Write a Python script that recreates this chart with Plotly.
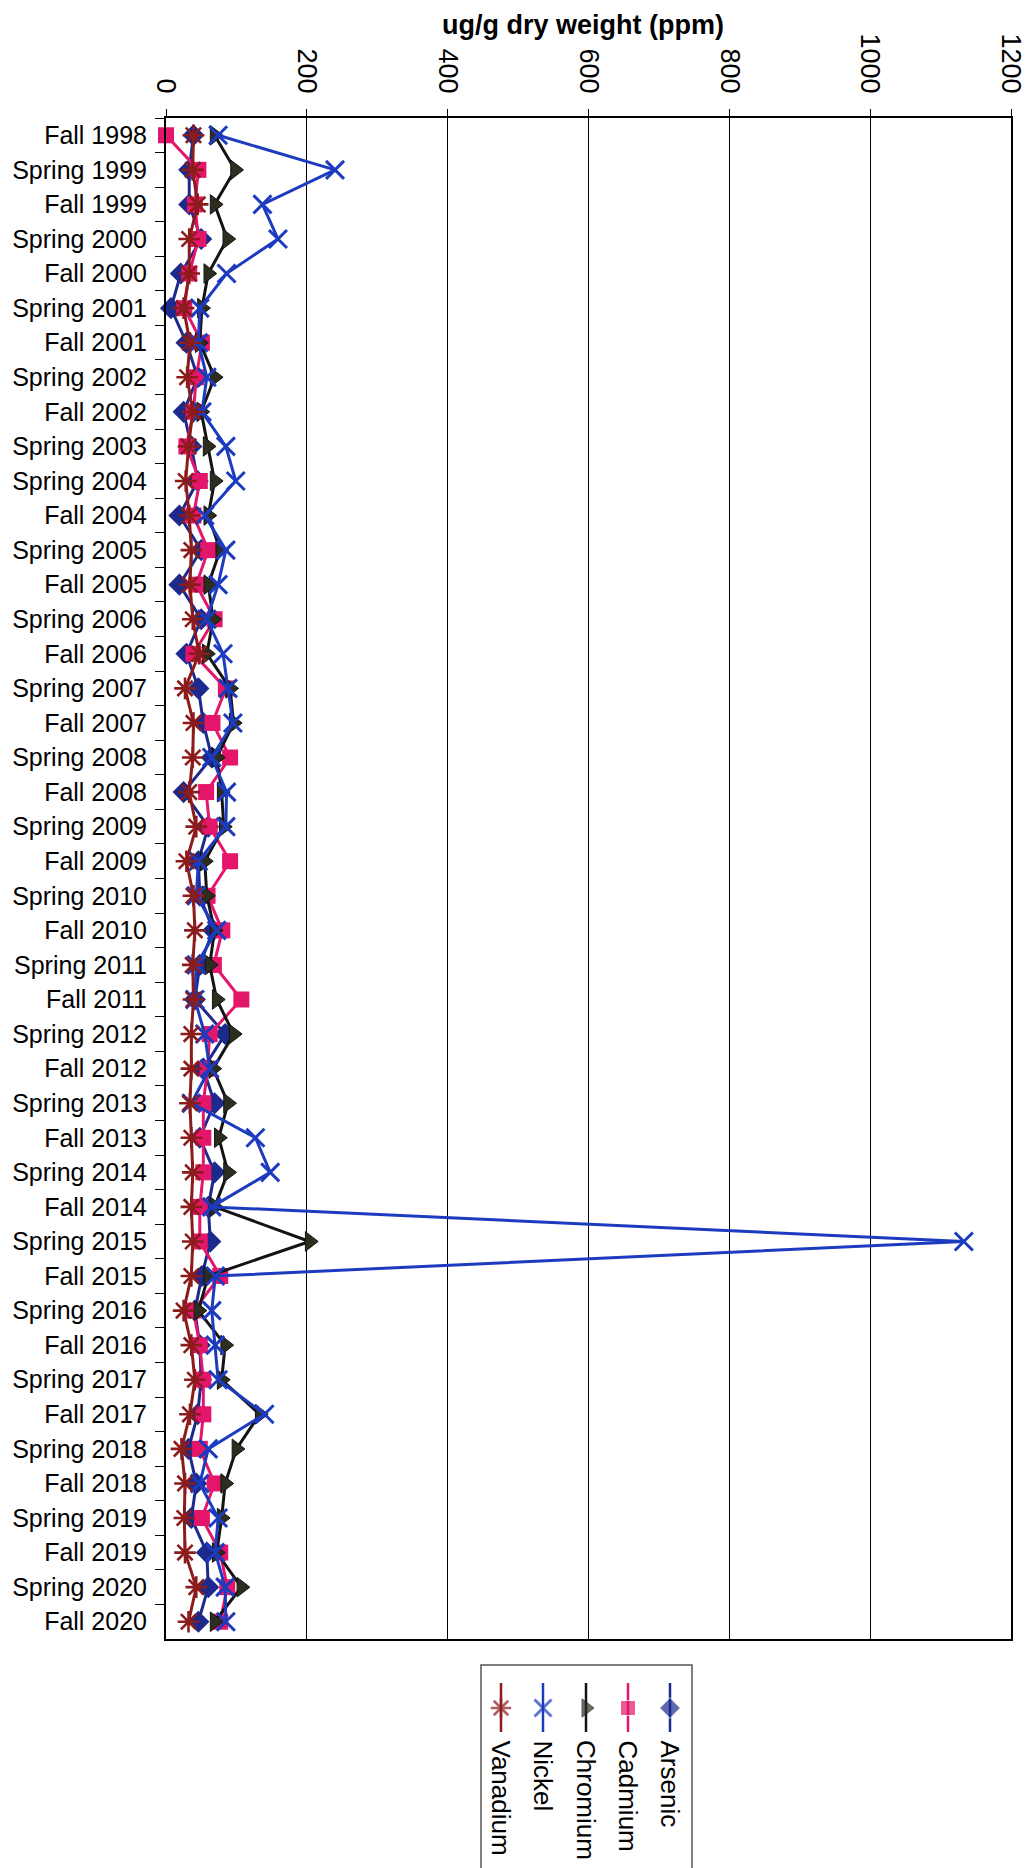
import plotly.graph_objects as go

categories = [
    "Fall 1998", "Spring 1999", "Fall 1999", "Spring 2000", "Fall 2000", "Spring 2001",
    "Fall 2001", "Spring 2002", "Fall 2002", "Spring 2003", "Spring 2004", "Fall 2004",
    "Spring 2005", "Fall 2005", "Spring 2006", "Fall 2006", "Spring 2007", "Fall 2007",
    "Spring 2008", "Fall 2008", "Spring 2009", "Fall 2009", "Spring 2010", "Fall 2010",
    "Spring 2011", "Fall 2011", "Spring 2012", "Fall 2012", "Spring 2013", "Fall 2013",
    "Spring 2014", "Fall 2014", "Spring 2015", "Fall 2015", "Spring 2016", "Fall 2016",
    "Spring 2017", "Fall 2017", "Spring 2018", "Fall 2018", "Spring 2019", "Fall 2019",
    "Spring 2020", "Fall 2020",
]

arsenic = [39, 33, 33, 50, 21, 7, 29, 45, 25, 36, 45, 19, 50, 19, 50, 29, 46, 53, 65, 25,
           60, 46, 48, 67, 48, 41, 84, 53, 69, 48, 69, 60, 63, 51, 41, 48, 50, 45, 32, 43,
           36, 58, 60, 46]
cadmium = [0, 46, 41, 46, 33, 26, 51, 43, 39, 29, 48, 39, 60, 43, 69, 39, 85, 66, 91, 57,
           62, 91, 59, 80, 68, 107, 62, 59, 53, 53, 53, 48, 48, 77, 39, 48, 53, 53, 48, 69,
           51, 77, 87, 77]
chromium = [69, 98, 69, 87, 60, 51, 48, 69, 50, 59, 69, 60, 77, 60, 67, 58, 91, 96, 72, 79,
            82, 55, 58, 69, 62, 72, 96, 67, 88, 75, 88, 69, 204, 60, 46, 84, 79, 133, 100, 84,
            79, 72, 107, 69]
nickel = [74, 240, 137, 159, 86, 48, 46, 58, 51, 85, 99, 55, 85, 74, 58, 81, 88, 95, 65, 86,
          85, 46, 43, 72, 43, 41, 55, 62, 36, 127, 148, 65, 1133, 70, 65, 70, 74, 140, 60, 48,
          74, 70, 84, 85]
vanadium = [39, 38, 45, 33, 33, 25, 34, 30, 38, 32, 28, 33, 36, 34, 38, 47, 27, 39, 38, 33,
            43, 29, 39, 41, 38, 39, 36, 36, 34, 36, 38, 36, 38, 36, 25, 36, 41, 34, 22, 27,
            26, 27, 43, 32]

x_ticks = [0, 200, 400, 600, 800, 1000, 1200]
series_names = ["Arsenic", "Cadmium", "Chromium", "Nickel", "Vanadium"]
series_values = [arsenic, cadmium, chromium, nickel, vanadium]

styles = {
    "Arsenic": dict(line="#1b2a8c", marker=dict(symbol="diamond", size=17, color="#1b2a8c")),
    "Cadmium": dict(line="#e3166b", marker=dict(symbol="square", size=16, color="#e3166b")),
    "Chromium": dict(line="#141414", marker=dict(symbol="triangle-right", size=17, color="#2d2d20",
                                                  line=dict(color="#141414", width=1))),
    "Nickel": dict(line="#1c3bbf", marker=dict(symbol="x-thin-open", size=18, color="#1c3bbf",
                                                line=dict(color="#1c3bbf", width=3))),
    "Vanadium": dict(line="#8c1c1c", marker=dict(symbol="asterisk-open", size=18, color="#8c1c1c",
                                                  line=dict(color="#8c1c1c", width=2.6))),
}

FONT = "Liberation Sans, Arial, sans-serif"

# The page body has an 8px margin: work in page pixels and subtract the offset
OFF = 8
PW, PH = 1033, 1868            # page size
W, H = PW - OFF, PH - OFF      # figure size
plot_left, plot_right, plot_top, plot_bottom = 166, 1011, 118, 1639   # page px
L = plot_left - OFF
R = PW - plot_right
T = plot_top - OFF
paper_h = H - T
dom_split = (PH - plot_bottom) / paper_h

fig = go.Figure()
for name, vals in zip(series_names, series_values):
    st = styles[name]
    fig.add_trace(go.Scatter(
        x=vals, y=categories, mode="lines+markers", name=name,
        line=dict(color=st["line"], width=3), marker=st["marker"],
        showlegend=False, cliponaxis=False,
    ))

# Rotated legend drawn on an auxiliary axis (page-pixel units) below the plot
leg_x = [670, 628, 586, 543, 501]
leg_top, leg_mid, leg_bot = 1683, 1708, 1732
for name, lx in zip(series_names, leg_x):
    st = styles[name]
    mk = dict(st["marker"])
    mk["size"] = [0, mk["size"] - 1, 0]
    fig.add_trace(go.Scatter(
        x=[lx, lx, lx], y=[leg_top, leg_mid, leg_bot], mode="lines+markers",
        line=dict(color=st["line"], width=2.5), marker=mk,
        xaxis="x2", yaxis="y2", showlegend=False, hoverinfo="skip", cliponaxis=False,
    ))
    fig.add_annotation(
        x=lx, y=1738, xref="x2", yref="y2", text=name, textangle=90,
        xanchor="center", yanchor="top", showarrow=False,
        font=dict(family=FONT, size=26, color="black"),
    )

fig.add_shape(type="rect", xref="x2", yref="y2", x0=481, x1=692, y0=1665, y1=1900,
              line=dict(color="#555555", width=1.5), fillcolor="rgba(0,0,0,0)")

fig.add_annotation(
    x=(583 - plot_left) / (plot_right - plot_left), y=(PH - 25) / paper_h,
    xref="paper", yref="paper",
    text="<b>ug/g dry weight (ppm)</b>", showarrow=False, xanchor="center", yanchor="middle",
    font=dict(family=FONT, size=27, color="black"),
)

fig.update_layout(
    width=W, height=H,
    margin=dict(l=L, r=R, t=T, b=0, autoexpand=False),
    paper_bgcolor="white", plot_bgcolor="white",
    font=dict(family=FONT, color="black"),
    xaxis=dict(
        side="top", range=[0, 1200], tickvals=x_ticks, ticktext=[str(v) for v in x_ticks],
        tickangle=90, tickfont=dict(size=27, family=FONT, color="black"),
        showgrid=True, gridcolor="black", gridwidth=1, zeroline=False,
        showline=True, linecolor="black", linewidth=2, mirror=True,
        ticks="outside", ticklen=7, tickcolor="black", anchor="y",
        automargin=False, ticklabelstandoff=6,
    ),
    yaxis=dict(
        domain=[dom_split, 1], type="category", categoryarray=categories,
        range=[len(categories) - 0.5, -0.5],
        tickfont=dict(size=25, family=FONT, color="black"),
        showgrid=False, zeroline=False, showline=True, linecolor="black", linewidth=2,
        mirror=True, ticks="outside", ticklen=9, tickcolor="black", tickson="boundaries",
        ticklabelstandoff=12, automargin=False,
    ),
    xaxis2=dict(domain=[0, 1], range=[plot_left, plot_right], visible=False, anchor="y2",
                fixedrange=True, automargin=False),
    yaxis2=dict(domain=[0, dom_split], range=[PH, plot_bottom], visible=False, anchor="x2",
                fixedrange=True, automargin=False),
)

fig.write_html("out.html")
